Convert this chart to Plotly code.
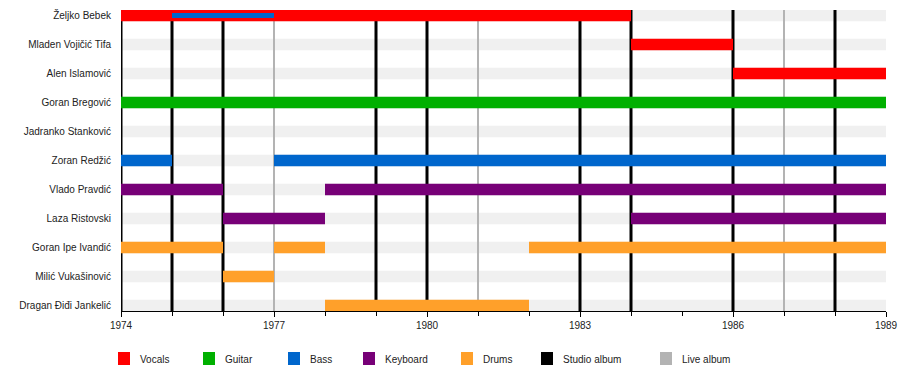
import plotly.graph_objects as go

members = ["Željko Bebek", "Mladen Vojičić Tifa", "Alen Islamović", "Goran Bregović",
           "Jadranko Stanković", "Zoran Redžić", "Vlado Pravdić", "Laza Ristovski",
           "Goran Ipe Ivandić", "Milić Vukašinović", "Dragan Điđi Jankelić"]

# (member, role, start, end)
periods = [
    ("Željko Bebek", "Vocals", 1974, 1984),
    ("Mladen Vojičić Tifa", "Vocals", 1984, 1986),
    ("Alen Islamović", "Vocals", 1986, 1989),
    ("Goran Bregović", "Guitar", 1974, 1989),
    ("Zoran Redžić", "Bass", 1974, 1975),
    ("Zoran Redžić", "Bass", 1977, 1989),
    ("Vlado Pravdić", "Keyboard", 1974, 1976),
    ("Vlado Pravdić", "Keyboard", 1978, 1989),
    ("Laza Ristovski", "Keyboard", 1976, 1978),
    ("Laza Ristovski", "Keyboard", 1984, 1989),
    ("Goran Ipe Ivandić", "Drums", 1974, 1976),
    ("Goran Ipe Ivandić", "Drums", 1977, 1978),
    ("Goran Ipe Ivandić", "Drums", 1982, 1989),
    ("Milić Vukašinović", "Drums", 1976, 1977),
    ("Dragan Điđi Jankelić", "Drums", 1978, 1982),
]
# secondary (thin) role bars
secondary = [("Željko Bebek", "Bass", 1975, 1977)]

studio_albums = [1974, 1975, 1976, 1979, 1980, 1983, 1984, 1986, 1988]
live_albums = [1977, 1981, 1987]

roles = ["Vocals", "Guitar", "Bass", "Keyboard", "Drums"]
role_colors = {"Vocals": "#ff0000", "Guitar": "#00b000", "Bass": "#0066cc",
               "Keyboard": "#770077", "Drums": "#ffa02a"}
legend_items = roles + ["Studio album", "Live album"]
legend_colors = [role_colors[r] for r in roles] + ["#000000", "#b3b3b3"]

x_start, x_end = 1974, 1989
tick_years = [1974, 1977, 1980, 1983, 1986, 1989]

W, H = 900, 390
ML, MR, MT, MB = 121, 14, 10, 79
PW, PH = W - ML - MR, H - MT - MB
Y_RANGE = [10.19, -0.19]

def px_x(p):
    return (p - ML) / PW

def px_y(p):
    return (H - MB - p) / PH

idx = {m: i for i, m in enumerate(members)}
BAR_W = 0.40

fig = go.Figure()
shapes = []
# background rows
for m in members:
    shapes.append(dict(type="rect", xref="x", yref="y", layer="below",
                       x0=x_start, x1=x_end, y0=idx[m] - BAR_W / 2, y1=idx[m] + BAR_W / 2,
                       fillcolor="#f0f0f0", line=dict(width=0)))
# album lines
for yr in live_albums:
    shapes.append(dict(type="line", xref="x", yref="y", layer="below",
                       x0=yr, x1=yr, y0=Y_RANGE[0], y1=Y_RANGE[1],
                       line=dict(color="#b3b3b3", width=2)))
for yr in studio_albums:
    shapes.append(dict(type="line", xref="x", yref="y", layer="below",
                       x0=yr, x1=yr, y0=Y_RANGE[0], y1=Y_RANGE[1],
                       line=dict(color="#000000", width=3)))

for role in roles:
    ps = [p for p in periods if p[1] == role]
    fig.add_trace(go.Bar(
        orientation="h",
        y=[idx[p[0]] for p in ps],
        base=[p[2] for p in ps],
        x=[p[3] - p[2] for p in ps],
        width=BAR_W,
        marker=dict(color=role_colors[role], line=dict(width=0)),
        showlegend=False, hoverinfo="skip"))

for p in secondary:
    fig.add_trace(go.Bar(
        orientation="h", y=[idx[p[0]]], base=[p[2]], x=[p[3] - p[2]],
        width=0.18,
        marker=dict(color=role_colors[p[1]], line=dict(width=0)),
        showlegend=False, hoverinfo="skip"))

# legend
annotations = []
legend_x_px = [118, 203, 288, 363, 461, 541, 660]
for name, col, lx in zip(legend_items, legend_colors, legend_x_px):
    shapes.append(dict(type="rect", xref="paper", yref="paper",
                       x0=px_x(lx), x1=px_x(lx + 12), y0=px_y(365), y1=px_y(352),
                       fillcolor=col, line=dict(width=0)))
    annotations.append(dict(xref="paper", yref="paper", x=px_x(lx + 20), y=px_y(359),
                            text=name, showarrow=False, xanchor="left", yanchor="middle",
                            font=dict(size=10, color="#222")))

fig.update_layout(
    width=W, height=H,
    margin=dict(l=ML, r=MR, t=MT, b=MB, autoexpand=False),
    barmode="overlay",
    plot_bgcolor="white", paper_bgcolor="white",
    font=dict(family="Liberation Sans, Arial, sans-serif", size=10, color="#222"),
    shapes=shapes, annotations=annotations,
    xaxis=dict(range=[x_start, x_end], tickvals=tick_years, ticktext=[str(t) for t in tick_years],
               automargin=False,
               showgrid=False, zeroline=False, showline=True, linecolor="black", linewidth=1,
               ticks="outside", ticklen=5, tickcolor="black", tickwidth=1,
               minor=dict(dtick=1, tick0=1974, ticks="outside", ticklen=4, tickcolor="black",
                          showgrid=False)),
    yaxis=dict(range=Y_RANGE, tickvals=list(range(len(members))), ticktext=members,
               automargin=False,
               showgrid=False, zeroline=False, showline=False, ticks="",
               ticklabelstandoff=9),
)

fig.write_html("out.html", config={"displayModeBar": False},
               post_script="document.body.style.margin='0';document.body.style.overflow='hidden';")
